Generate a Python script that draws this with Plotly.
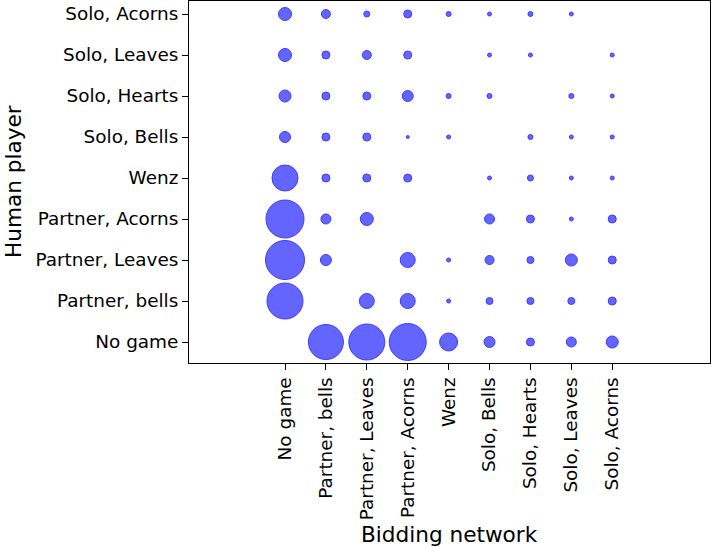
import numpy as np
import plotly.graph_objects as go

categories = ["No game", "Partner, bells", "Partner, Leaves", "Partner, Acorns",
              "Wenz", "Solo, Bells", "Solo, Hearts", "Solo, Leaves", "Solo, Acorns"]

# counts[human_row][network_col]
no_game         = [0, 1296, 1369, 1444, 361, 144, 81, 121, 169]
partner_bells   = [1369, 0, 256, 256, 25, 64, 64, 64, 81]
partner_leaves  = [1600, 144, 0, 256, 25, 100, 64, 169, 81]
partner_acorns  = [1521, 121, 196, 0, 0, 121, 81, 25, 81]
wenz            = [729, 81, 81, 81, 0, 25, 49, 25, 25]
solo_bells      = [144, 81, 81, 16, 25, 0, 36, 25, 25]
solo_hearts     = [169, 81, 81, 144, 36, 36, 0, 36, 25]
solo_leaves     = [196, 81, 100, 81, 0, 25, 25, 0, 25]
solo_acorns     = [196, 100, 49, 81, 36, 25, 36, 25, 0]

rows = [no_game, partner_bells, partner_leaves, partner_acorns, wenz,
        solo_bells, solo_hearts, solo_leaves, solo_acorns]

xs, ys, vs = [], [], []
for yi, row in enumerate(rows):
    for xi, v in enumerate(row):
        if v > 0:
            xs.append(xi)
            ys.append(yi)
            vs.append(v)
vs = np.array(vs, dtype=float)
sizes = np.sqrt(vs) - 1

fig = go.Figure()
fig.add_trace(go.Scatter(
    x=xs, y=ys, mode="markers",
    marker=dict(size=sizes, sizemode="diameter", opacity=1,
                color="#6464ff",
                line=dict(color="#3c3cff", width=1)),
    hoverinfo="skip", showlegend=False))

font = dict(family="DejaVu Sans", size=18.4, color="black")
axis_common = dict(showline=True, linecolor="black", linewidth=1, mirror=True,
                   ticks="outside", ticklen=6, tickwidth=1, tickcolor="black",
                   showgrid=False, zeroline=False, tickfont=font)

fig.update_xaxes(range=[-2.347, 10.39], tickmode="array",
                 tickvals=list(range(len(categories))), ticktext=categories,
                 tickangle=-90, **axis_common)
fig.update_yaxes(range=[-0.512, 8.317], tickmode="array",
                 tickvals=list(range(len(categories))), ticktext=categories,
                 **axis_common)

fig.update_layout(
    width=711, height=547,
    margin=dict(l=189, r=1, t=1, b=184, pad=0),
    plot_bgcolor="white", paper_bgcolor="white",
    font=font,
    annotations=[
        dict(text="Bidding network", xref="paper", yref="paper", x=0.5, y=-0.475,
             xanchor="center", yanchor="middle", showarrow=False,
             font=dict(family="DejaVu Sans", size=21.6, color="black")),
        dict(text="Human player", xref="paper", yref="paper", x=-0.3378, y=0.5,
             xanchor="center", yanchor="middle", textangle=-90, showarrow=False,
             font=dict(family="DejaVu Sans", size=21.6, color="black")),
    ],
)

fig.write_html("out.html")
